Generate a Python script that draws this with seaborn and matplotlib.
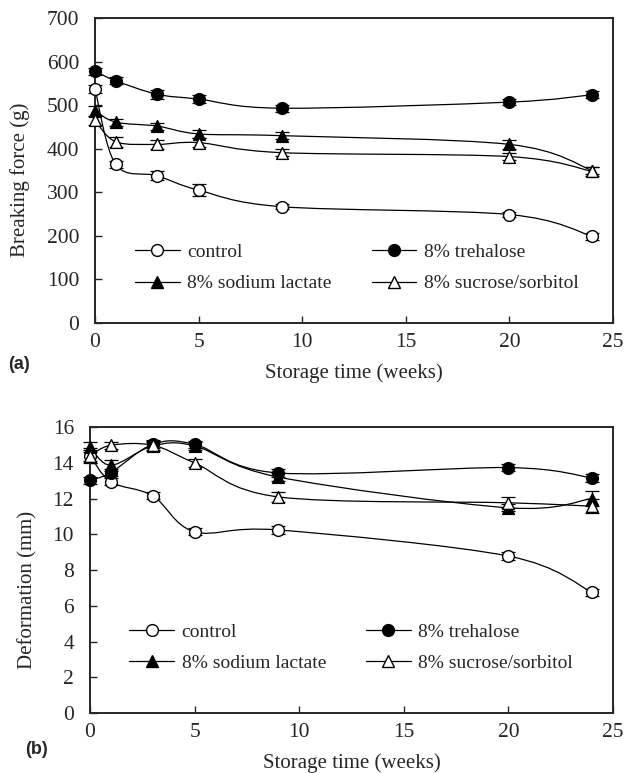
import numpy as np
import pandas as pd
import seaborn as sns
from matplotlib import pyplot as plt
from matplotlib.path import Path
from matplotlib.patches import PathPatch
from matplotlib.lines import Line2D

# storage time (weeks)
weeks = [0, 1, 3, 5, 9, 20, 24]

# (a) breaking force (g)
force_control = [537, 364, 338, 305, 267, 249, 199]
force_trehalose = [578, 556, 525, 514, 493, 507, 524]
force_lactate = [487, 461, 452, 434, 430, 410, 350]
force_sucrose = [465, 416, 410, 414, 391, 382, 348]
force_err_control = [10, 8, 10, 14, 6, 6, 8]
force_err_trehalose = [8, 8, 10, 10, 8, 6, 8]
force_err_lactate = [12, 8, 8, 10, 8, 10, 8]
force_err_sucrose = [10, 12, 10, 10, 8, 8, 10]

# (b) deformation (mm)
deform_control = [14.4, 12.93, 12.15, 10.14, 10.24, 8.78, 6.75]
deform_trehalose = [13.02, 13.45, 15.03, 15.03, 13.43, 13.73, 13.15]
deform_lactate = [14.88, 13.86, 14.94, 14.94, 13.2, 11.48, 12.0]
deform_sucrose = [14.4, 14.98, 14.98, 13.99, 12.09, 11.76, 11.57]
deform_err_control = [0.3, 0.2, 0.2, 0.2, 0.2, 0.2, 0.2]
deform_err_trehalose = [0.2, 0.2, 0.2, 0.2, 0.2, 0.2, 0.2]
deform_err_lactate = [0.3, 0.3, 0.2, 0.2, 0.2, 0.2, 0.4]
deform_err_sucrose = [0.4, 0.2, 0.3, 0.2, 0.3, 0.3, 0.4]

labels = ['control', '8% trehalose', '8% sodium lactate', '8% sucrose/sorbitol']
markers = ['o', 'o', '^', '^']
faces = ['white', 'black', 'black', 'white']


def smooth_line( ax, x, y ):
    """Excel-like smoothed connecting line (bezier through the points)."""
    pts = np.column_stack( [x, y] ).astype(float)
    n = len(pts)
    verts = [pts[0]]
    codes = [Path.MOVETO]
    for i in range(n - 1):
        p0 = pts[i - 1] if i > 0 else pts[i]
        p1 = pts[i]
        p2 = pts[i + 1]
        p3 = pts[i + 2] if i + 2 < n else pts[i + 1]
        verts += [p1 + (p2 - p0) / 6, p2 - (p3 - p1) / 6, p2]
        codes += [Path.CURVE4] * 3
    ax.add_patch( PathPatch( Path(verts, codes), facecolor = 'none',
                             edgecolor = 'black', lw = 0.9, zorder = 2 ) )


def panel( ax, series, errors, ylim, yticks, ylabel, ylabel_pos, leg_anchor ):
    for vals, err, lab, m, fc in zip( series, errors, labels, markers, faces ):
        df = pd.DataFrame( {'week': weeks, 'value': vals} )
        smooth_line( ax, df['week'], df['value'] )
        eb = ax.errorbar( df['week'], df['value'], yerr = err, fmt = 'none',
                          ecolor = 'black', elinewidth = 0.9, capsize = 5, capthick = 0.9, zorder = 2 )
        for art in eb.lines[1] + eb.lines[2]:
            art.set_clip_on( False )
        sns.scatterplot( data = df, x = 'week', y = 'value', marker = m, s = 72,
                         color = fc, edgecolor = 'black', linewidth = 1.0, zorder = 3,
                         clip_on = False, legend = False, ax = ax )
    ax.set_xlim( 0, 25 )
    ax.set_ylim( *ylim )
    ax.set_xticks( [0, 5, 10, 15, 20, 25] )
    ax.set_yticks( yticks )
    ax.tick_params( direction = 'in', length = 5, width = 1, labelsize = 15.5 )
    ax.tick_params( axis = 'x', pad = 7 )
    ax.tick_params( axis = 'y', pad = 11.5 )
    for sp in ax.spines.values():
        sp.set_linewidth( 1.4 )
    ax.set_xlabel( 'Storage time (weeks)', fontsize = 15, labelpad = 8 )
    ax.set_ylabel( ylabel, fontsize = 15 )
    ax.yaxis.set_label_coords( *ylabel_pos )
    handles = [ Line2D( [], [], color = 'black', lw = 0.9, marker = m, markersize = 8.5,
                        markerfacecolor = fc, markeredgecolor = 'black' )
                for m, fc in zip( markers, faces ) ]
    order = [0, 2, 1, 3]
    ax.legend( [handles[i] for i in order], [labels[i] for i in order], ncol = 2,
               loc = 'upper left', bbox_to_anchor = leg_anchor, frameon = False,
               fontsize = 14, handlelength = 2.3, handletextpad = 0.4,
               columnspacing = 2.05, labelspacing = 0.72, borderpad = 0, borderaxespad = 0 )


if __name__ == '__main__':

    sns.set_style( 'ticks' )
    plt.rcParams['font.family'] = ['Liberation Serif', 'DejaVu Serif']

    fig = plt.figure( figsize = (6.26, 7.73), dpi = 100 )
    ax1 = fig.add_axes( [0.1518, 0.5821, 0.8275, 0.3946] )
    ax2 = fig.add_axes( [0.1438, 0.0776, 0.8355, 0.3700] )

    panel( ax1,
           [force_control, force_trehalose, force_lactate, force_sucrose],
           [force_err_control, force_err_trehalose, force_err_lactate, force_err_sucrose],
           (0, 700), range(0, 701, 100), 'Breaking force (g)', (-0.125, 0.469), (0.077, 0.262) )
    panel( ax2,
           [deform_control, deform_trehalose, deform_lactate, deform_sucrose],
           [deform_err_control, deform_err_trehalose, deform_err_lactate, deform_err_sucrose],
           (0, 16), range(0, 17, 2), 'Deformation (mm)', (-0.10, 0.43), (0.075, 0.315) )

    fig.text( 0.013, 0.528, '(a)', fontsize = 13, fontweight = 'bold',
              family = 'Liberation Sans', va = 'center' )
    fig.text( 0.040, 0.030, '(b)', fontsize = 13, fontweight = 'bold',
              family = 'Liberation Sans', va = 'center' )

    fig.savefig( 'out.png', dpi = 100 )
